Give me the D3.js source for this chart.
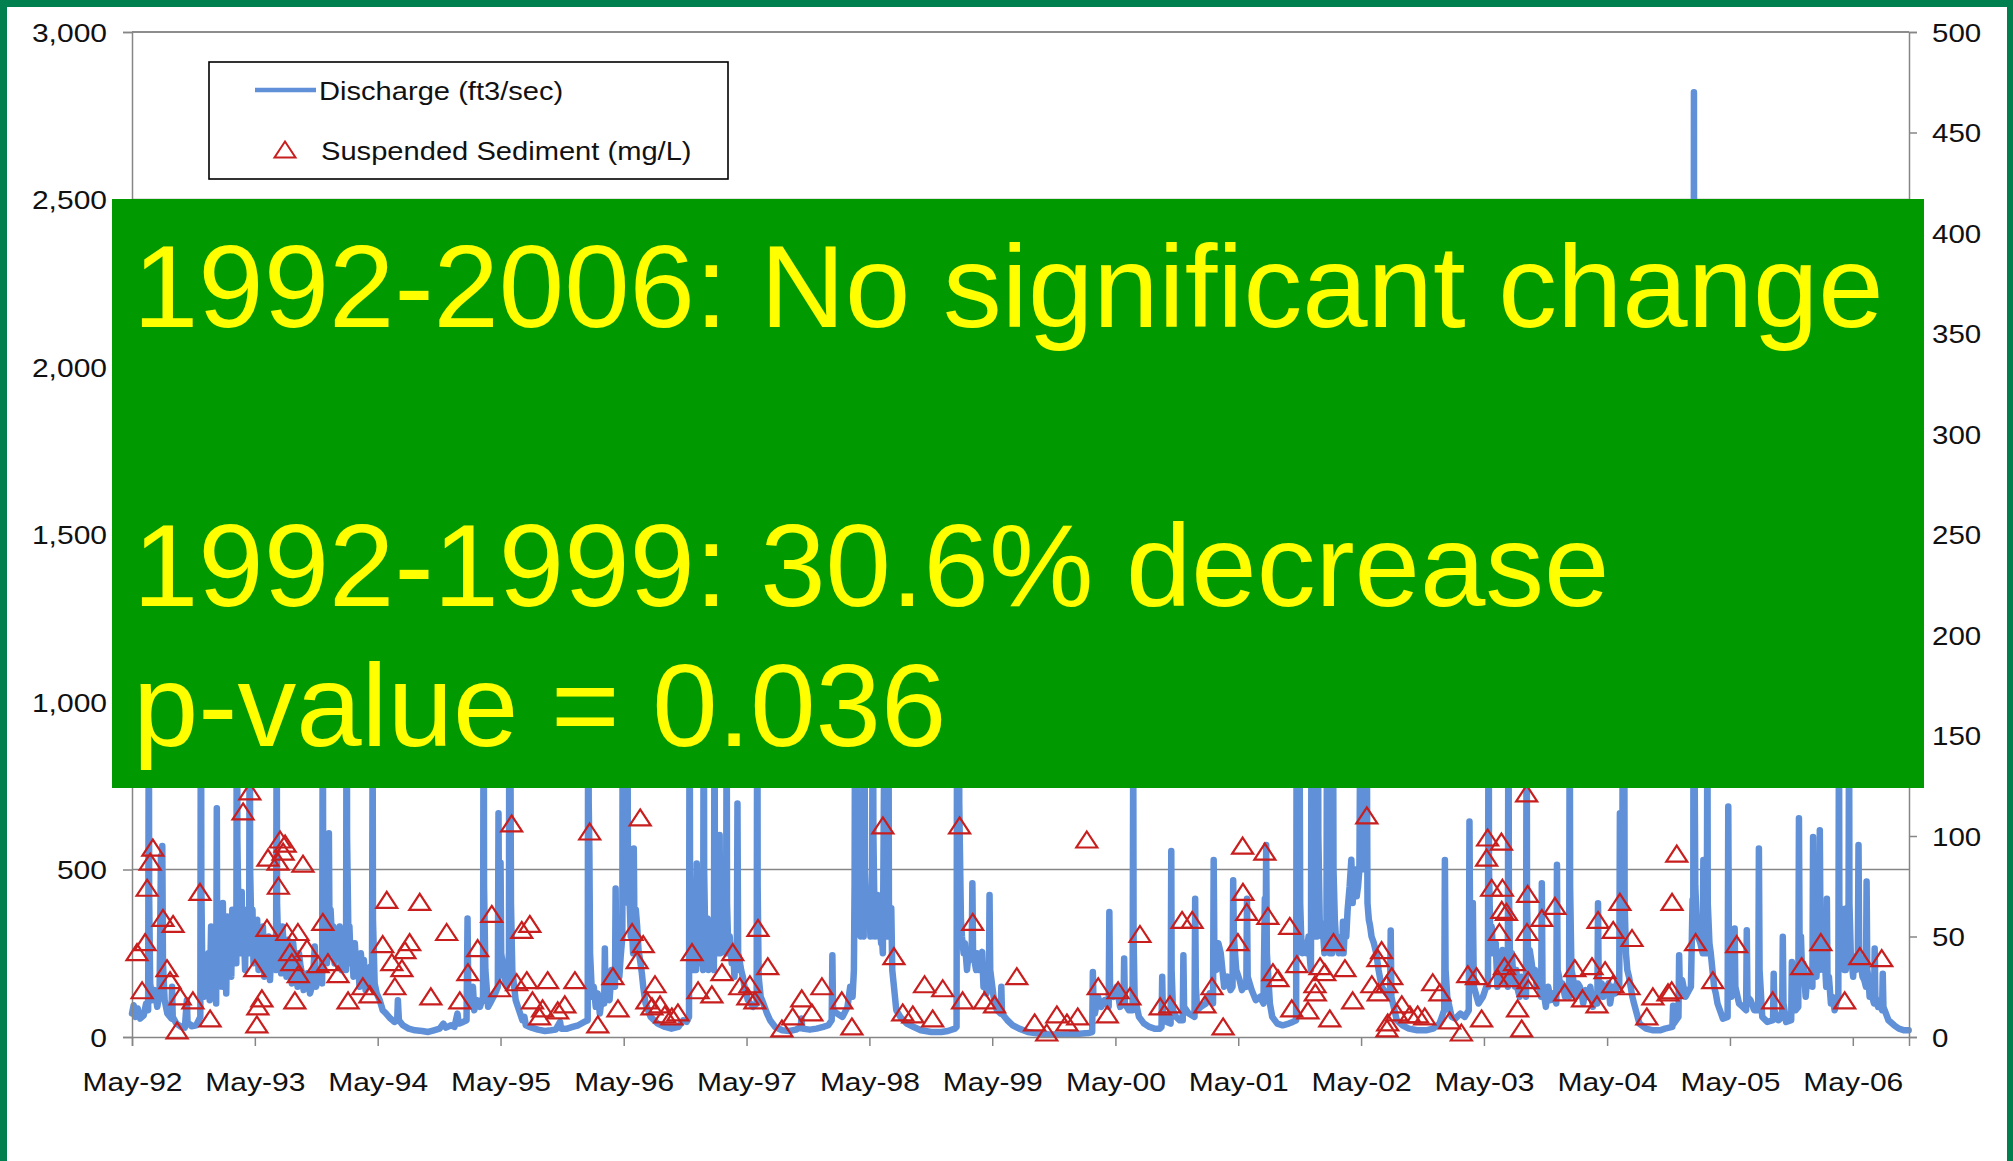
<!DOCTYPE html>
<html>
<head>
<meta charset="utf-8">
<script src="https://cdn.jsdelivr.net/npm/d3@7"></script>
<style>
  html, body { margin: 0; padding: 0; background: #ffffff; }
  svg { display: block; }
  text { font-family: "Liberation Sans", Arial, "Helvetica Neue", sans-serif; }
</style>
</head>
<body>
<svg id="chart" width="2013" height="1161"></svg>
<script>
// ---------------- data ----------------
// Daily discharge record (ft3/sec), key days of each runoff event
const discharge = [
["1992-05-01",70],["1992-05-06",95],["1992-05-12",60],["1992-05-18",85],["1992-05-25",55],["1992-06-05",65],["1992-06-12",100],["1992-06-18",80],["1992-06-20",1100],["1992-06-21",420],["1992-06-24",160],["1992-07-01",110],["1992-07-08",140],["1992-07-15",90],["1992-07-22",130],["1992-07-26",540],["1992-07-28",300],["1992-07-30",570],["1992-08-01",220],["1992-08-06",110],["1992-08-14",70],["1992-08-26",55],["1992-08-28",150],["1992-08-30",60],["1992-09-10",40],["1992-09-25",30],["1992-10-05",28],["1992-10-11",110],["1992-10-13",45],["1992-10-25",32],["1992-11-08",35],["1992-11-20",60],["1992-11-22",1300],["1992-11-23",450],["1992-11-26",190],["1992-12-02",120],["1992-12-10",170],["1992-12-14",250],["1992-12-18",110],["1992-12-22",330],["1992-12-28",140],
["1993-01-02",260],["1993-01-06",100],["1993-01-08",683],["1993-01-09",300],["1993-01-12",150],["1993-01-15",280],["1993-01-18",180],["1993-01-21",350],["1993-01-25",150],["1993-01-26",400],["1993-01-28",180],["1993-02-02",300],["1993-02-05",130],["1993-02-08",360],["1993-02-12",220],["1993-02-16",290],["1993-02-20",180],["1993-02-23",380],["1993-02-27",260],["1993-03-03",330],["1993-03-07",220],["1993-03-09",1500],["1993-03-10",600],["1993-03-14",300],["1993-03-17",380],["1993-03-20",250],["1993-03-23",433],["1993-03-25",250],["1993-03-29",340],["1993-04-02",200],["1993-04-05",380],["1993-04-08",300],["1993-04-11",320],["1993-04-14",250],["1993-04-16",1200],["1993-04-17",500],["1993-04-21",300],["1993-04-24",380],["1993-04-27",220],
["1993-05-05",300],["1993-05-08",350],["1993-05-12",200],["1993-05-16",260],["1993-05-20",280],["1993-05-25",330],["1993-05-29",180],["1993-06-02",240],["1993-06-06",260],["1993-06-11",300],["1993-06-15",170],["1993-06-19",250],["1993-06-24",230],["1993-06-28",290],["1993-07-03",200],["1993-07-05",1000],["1993-07-06",400],["1993-07-10",250],["1993-07-14",300],["1993-07-18",190],["1993-07-22",330],["1993-07-26",270],["1993-07-30",230],["1993-08-03",180],["1993-08-07",290],["1993-08-11",250],["1993-08-15",210],["1993-08-19",160],["1993-08-23",280],["1993-08-27",230],["1993-09-01",200],["1993-09-05",150],["1993-09-09",250],["1993-09-14",210],["1993-09-18",190],["1993-09-23",140],["1993-10-03",190],["1993-10-12",130],["1993-10-20",160],["1993-10-26",270],["1993-10-30",150],["1993-11-08",200],["1993-11-17",160],["1993-11-19",1100],["1993-11-20",450],["1993-11-23",250],["1993-11-28",320],["1993-12-01",220],["1993-12-05",250],["1993-12-07",608],["1993-12-09",280],["1993-12-12",380],["1993-12-16",300],["1993-12-20",330],["1993-12-24",220],["1993-12-28",300],
["1994-01-04",260],["1994-01-08",330],["1994-01-14",200],["1994-01-18",300],["1994-01-22",240],["1994-01-27",200],["1994-01-29",1400],["1994-01-30",600],["1994-02-03",300],["1994-02-06",330],["1994-02-10",220],["1994-02-14",260],["1994-02-18",180],["1994-02-22",280],["1994-02-27",200],["1994-03-03",240],["1994-03-08",150],["1994-03-12",250],["1994-03-17",190],["1994-03-21",230],["1994-03-26",140],["1994-03-30",200],["1994-04-05",160],["1994-04-09",210],["1994-04-14",150],["1994-04-16",900],["1994-04-17",350],["1994-04-22",160],["1994-04-28",130],
["1994-05-07",110],["1994-05-16",80],["1994-05-26",70],["1994-06-08",55],["1994-06-20",45],["1994-06-28",50],["1994-06-30",110],["1994-07-03",50],["1994-07-15",35],["1994-08-01",25],["1994-08-20",20],["1994-09-10",18],["1994-09-28",15],["1994-10-15",20],["1994-11-01",25],["1994-11-12",40],["1994-11-20",28],["1994-12-05",35],["1994-12-15",30],["1994-12-24",70],["1994-12-28",40],
["1995-01-10",45],["1995-01-20",50],["1995-01-23",354],["1995-01-25",150],["1995-01-30",90],["1995-02-08",150],["1995-02-12",80],["1995-02-20",110],["1995-03-01",90],["1995-03-10",120],["1995-03-12",1300],["1995-03-13",450],["1995-03-17",200],["1995-03-25",90],["1995-04-05",110],["1995-04-15",130],["1995-04-23",150],["1995-04-25",668],["1995-04-27",250],["1995-04-29",200],["1995-05-01",520],["1995-05-03",250],["1995-05-12",180],["1995-05-20",150],["1995-05-26",250],["1995-05-28",1800],["1995-05-30",1000],["1995-06-01",400],["1995-06-05",200],["1995-06-15",110],["1995-06-25",80],["1995-07-05",50],["1995-07-11",60],["1995-07-15",35],["1995-08-01",28],["1995-08-20",22],["1995-09-10",18],["1995-09-28",20],["1995-10-12",22],["1995-10-25",45],["1995-10-28",25],["1995-11-15",25],["1995-12-01",30],["1995-12-18",35],
["1996-01-05",45],["1996-01-15",50],["1996-01-17",1500],["1996-01-18",700],["1996-01-20",553],["1996-01-22",250],["1996-01-28",120],["1996-02-02",150],["1996-02-08",90],["1996-02-14",130],["1996-02-20",70],["1996-02-26",120],["1996-03-04",100],["1996-03-06",264],["1996-03-08",120],["1996-03-14",160],["1996-03-20",110],["1996-03-26",200],["1996-04-01",180],["1996-04-05",150],["1996-04-07",443],["1996-04-09",200],["1996-04-14",260],["1996-04-18",180],["1996-04-22",240],["1996-04-27",300],["1996-04-29",2000],["1996-05-01",1200],["1996-05-03",800],["1996-05-06",1600],["1996-05-09",600],["1996-05-12",1000],["1996-05-14",400],["1996-05-17",450],["1996-05-22",300],["1996-05-25",330],["1996-05-29",250],["1996-05-31",563],["1996-06-02",300],["1996-06-06",380],["1996-06-10",330],["1996-06-14",260],["1996-06-20",220],["1996-06-24",190],["1996-06-28",150],["1996-07-05",100],["1996-07-20",60],["1996-08-10",40],["1996-09-01",30],["1996-09-20",25],["1996-10-10",30],["1996-10-25",50],["1996-11-04",45],["1996-11-11",60],["1996-11-13",1200],["1996-11-14",500],["1996-11-17",250],["1996-11-21",300],["1996-11-25",200],["1996-11-29",260],["1996-12-02",200],["1996-12-04",518],["1996-12-06",250],["1996-12-10",330],["1996-12-14",220],["1996-12-18",300],["1996-12-23",200],["1996-12-25",1300],["1996-12-26",500],["1996-12-30",250],
["1997-01-02",300],["1997-01-05",354],["1997-01-08",200],["1997-01-12",320],["1997-01-16",240],["1997-01-20",300],["1997-01-24",200],["1997-01-26",1100],["1997-01-27",400],["1997-02-01",250],["1997-02-04",330],["1997-02-08",250],["1997-02-10",603],["1997-02-12",250],["1997-02-16",320],["1997-02-20",280],["1997-02-24",300],["1997-03-01",250],["1997-03-03",1000],["1997-03-04",400],["1997-03-08",250],["1997-03-12",300],["1997-03-18",220],["1997-03-22",260],["1997-03-26",180],["1997-03-30",240],["1997-04-02",200],["1997-04-04",697],["1997-04-06",250],["1997-04-10",230],["1997-04-15",200],["1997-04-20",180],["1997-04-25",150],["1997-05-05",110],["1997-05-20",90],["1997-05-31",100],["1997-06-02",1300],["1997-06-03",450],["1997-06-06",180],["1997-06-12",120],["1997-06-20",100],["1997-07-01",70],["1997-07-10",50],["1997-07-25",30],["1997-08-15",20],["1997-09-05",18],["1997-09-25",22],["1997-10-09",30],["1997-10-11",55],["1997-10-14",25],["1997-11-05",22],["1997-11-25",25],["1997-12-15",30],["1997-12-30",35],
["1998-01-09",50],["1998-01-11",244],["1998-01-13",80],["1998-01-25",70],["1998-02-10",60],["1998-02-25",90],["1998-03-05",150],["1998-03-12",120],["1998-03-16",200],["1998-03-18",454],["1998-03-20",1200],["1998-03-22",500],["1998-03-25",1500],["1998-03-27",600],["1998-03-31",400],["1998-04-01",450],["1998-04-05",300],["1998-04-08",380],["1998-04-10",350],["1998-04-14",300],["1998-04-16",1100],["1998-04-18",500],["1998-04-21",420],["1998-04-25",350],["1998-04-28",380],["1998-05-01",420],["1998-05-04",300],["1998-05-09",350],["1998-05-11",1300],["1998-05-13",600],["1998-05-16",380],["1998-05-18",300],["1998-05-21",350],["1998-05-25",424],["1998-05-28",300],["1998-06-01",330],["1998-06-05",280],["1998-06-07",300],["1998-06-10",250],["1998-06-15",1000],["1998-06-17",500],["1998-06-20",400],["1998-06-22",350],["1998-06-24",300],["1998-06-27",900],["1998-06-28",400],["1998-07-02",300],["1998-07-05",384],["1998-07-08",200],["1998-07-20",80],["1998-08-01",60],["1998-08-20",40],["1998-09-10",30],["1998-10-01",20],["1998-11-01",15],["1998-12-01",15],["1998-12-20",18],
["1999-01-10",25],["1999-01-15",30],["1999-01-17",1400],["1999-01-19",800],["1999-01-22",1600],["1999-01-23",700],["1999-01-28",350],["1999-01-31",300],["1999-02-05",250],["1999-02-09",280],["1999-02-15",200],["1999-02-19",240],["1999-02-24",230],["1999-03-01",250],["1999-03-03",459],["1999-03-05",250],["1999-03-09",230],["1999-03-14",200],["1999-03-17",250],["1999-03-22",200],["1999-03-26",220],["1999-04-01",254],["1999-04-05",150],["1999-04-08",180],["1999-04-14",130],["1999-04-17",200],["1999-04-21",150],["1999-04-23",424],["1999-04-25",200],["1999-05-05",120],["1999-05-15",80],["1999-05-26",70],["1999-05-28",150],["1999-05-30",70],["1999-06-15",50],["1999-07-01",35],["1999-07-20",25],["1999-08-15",15],["1999-09-15",10],["1999-10-15",8],["1999-11-15",7],["1999-12-15",8],
["2000-01-15",10],["2000-02-10",12],["2000-02-22",15],["2000-02-24",194],["2000-02-26",100],["2000-03-01",70],["2000-03-10",120],["2000-03-20",90],["2000-03-30",110],["2000-04-11",90],["2000-04-13",373],["2000-04-15",150],["2000-04-25",120],["2000-05-05",150],["2000-05-15",90],["2000-05-25",100],["2000-05-27",234],["2000-05-29",100],["2000-06-10",80],["2000-06-21",80],["2000-06-23",900],["2000-06-24",300],["2000-06-27",120],["2000-07-10",60],["2000-07-25",40],["2000-08-10",30],["2000-08-25",25],["2000-09-10",25],["2000-09-15",30],["2000-09-17",180],["2000-09-19",70],["2000-10-01",45],["2000-10-12",40],["2000-10-14",555],["2000-10-15",200],["2000-10-19",80],["2000-10-28",60],["2000-11-08",50],["2000-11-17",50],["2000-11-19",244],["2000-11-21",90],["2000-12-05",70],["2000-12-22",60],["2000-12-24",413],["2000-12-26",150],["2000-12-30",80],
["2001-01-10",90],["2001-01-25",100],["2001-02-05",130],["2001-02-15",100],["2001-02-17",528],["2001-02-19",250],["2001-02-25",200],["2001-03-03",280],["2001-03-10",250],["2001-03-20",150],["2001-03-30",180],["2001-04-08",140],["2001-04-14",150],["2001-04-16",468],["2001-04-18",300],["2001-04-25",200],["2001-05-05",170],["2001-05-12",140],["2001-05-20",160],["2001-05-25",150],["2001-05-27",413],["2001-05-29",180],["2001-06-10",140],["2001-06-22",110],["2001-07-05",120],["2001-07-15",100],["2001-07-19",413],["2001-07-21",200],["2001-07-23",573],["2001-07-25",250],["2001-08-03",100],["2001-08-10",60],["2001-08-25",40],["2001-09-10",35],["2001-09-28",40],["2001-10-10",45],["2001-10-20",50],["2001-10-22",1300],["2001-10-24",600],["2001-10-30",1000],["2001-11-01",400],["2001-11-04",300],["2001-11-08",250],["2001-11-14",280],["2001-11-20",250],["2001-11-26",300],["2001-12-01",220],["2001-12-03",200],["2001-12-05",1200],["2001-12-06",500],["2001-12-10",350],["2001-12-15",300],["2001-12-18",330],["2001-12-21",300],["2001-12-23",1500],["2001-12-25",600],["2001-12-29",350],
["2002-01-01",330],["2002-01-05",300],["2002-01-09",300],["2002-01-12",250],["2002-01-15",330],["2002-01-18",300],["2002-01-20",1100],["2002-01-22",400],["2002-01-25",300],["2002-01-28",250],["2002-02-01",280],["2002-02-04",250],["2002-02-06",1300],["2002-02-08",500],["2002-02-12",350],["2002-02-15",300],["2002-02-19",300],["2002-02-24",250],["2002-02-28",280],["2002-03-06",250],["2002-03-08",344],["2002-03-10",250],["2002-03-14",330],["2002-03-18",300],["2002-03-22",380],["2002-03-28",450],["2002-04-02",529],["2002-04-06",400],["2002-04-10",480],["2002-04-15",500],["2002-04-18",420],["2002-04-22",450],["2002-04-26",500],["2002-04-30",1200],["2002-05-02",700],["2002-05-05",1500],["2002-05-08",700],["2002-05-12",500],["2002-05-15",600],["2002-05-18",900],["2002-05-20",400],["2002-05-24",350],["2002-05-28",330],["2002-06-01",300],["2002-06-08",280],["2002-06-15",250],["2002-06-22",200],["2002-07-01",150],["2002-07-15",130],["2002-07-26",120],["2002-07-28",318],["2002-07-30",120],["2002-08-15",50],["2002-09-01",35],["2002-09-20",25],["2002-10-15",20],["2002-11-10",20],["2002-12-01",25],["2002-12-20",40],
["2003-01-03",80],["2003-01-05",528],["2003-01-07",200],["2003-01-12",120],["2003-01-25",60],["2003-02-05",55],["2003-02-20",70],["2003-03-05",60],["2003-03-17",80],["2003-03-19",643],["2003-03-21",300],["2003-03-26",200],["2003-03-29",400],["2003-04-01",150],["2003-04-15",100],["2003-04-28",120],["2003-05-08",150],["2003-05-13",150],["2003-05-15",1300],["2003-05-16",500],["2003-05-20",300],["2003-05-24",330],["2003-05-28",250],["2003-06-01",250],["2003-06-05",280],["2003-06-10",150],["2003-06-14",220],["2003-06-20",200],["2003-06-25",260],["2003-07-01",160],["2003-07-05",220],["2003-07-11",150],["2003-07-13",1200],["2003-07-14",450],["2003-07-18",200],["2003-07-23",250],["2003-07-27",180],["2003-08-01",150],["2003-08-05",200],["2003-08-10",140],["2003-08-15",120],["2003-08-20",180],["2003-08-25",150],["2003-08-30",140],["2003-09-03",120],["2003-09-05",1100],["2003-09-06",400],["2003-09-10",200],["2003-09-14",260],["2003-09-20",220],["2003-09-25",180],["2003-09-30",200],["2003-10-05",150],["2003-10-10",170],["2003-10-18",120],["2003-10-20",459],["2003-10-22",150],["2003-10-26",130],["2003-11-01",90],["2003-11-08",150],["2003-11-15",110],["2003-11-22",130],["2003-12-02",100],["2003-12-04",514],["2003-12-06",200],["2003-12-10",180],["2003-12-15",150],["2003-12-20",160],["2003-12-28",120],
["2004-01-04",150],["2004-01-09",120],["2004-01-11",1100],["2004-01-12",450],["2004-01-16",200],["2004-01-20",180],["2004-01-25",150],["2004-01-30",120],["2004-02-04",160],["2004-02-10",150],["2004-02-15",130],["2004-02-20",100],["2004-02-27",140],["2004-03-05",120],["2004-03-12",150],["2004-03-20",90],["2004-03-26",120],["2004-04-02",100],["2004-04-04",399],["2004-04-06",150],["2004-04-10",140],["2004-04-15",160],["2004-04-20",120],["2004-04-27",140],["2004-05-05",160],["2004-05-10",100],["2004-05-18",150],["2004-05-25",130],["2004-06-01",170],["2004-06-06",150],["2004-06-08",668],["2004-06-10",300],["2004-06-13",350],["2004-06-15",400],["2004-06-17",1200],["2004-06-18",500],["2004-06-21",1000],["2004-06-22",400],["2004-06-26",250],["2004-06-30",200],["2004-07-05",180],["2004-07-10",150],["2004-07-15",120],["2004-07-20",100],["2004-08-05",40],["2004-08-25",25],["2004-09-15",20],["2004-10-05",20],["2004-10-20",25],["2004-11-11",30],["2004-11-13",93],["2004-11-15",40],["2004-11-29",60],["2004-12-01",244],["2004-12-03",150],["2004-12-10",170],["2004-12-20",120],
["2005-01-05",150],["2005-01-10",410],["2005-01-12",300],["2005-01-14",2820],["2005-01-15",1000],["2005-01-18",450],["2005-01-22",350],["2005-01-26",300],["2005-02-02",280],["2005-02-09",250],["2005-02-11",528],["2005-02-13",250],["2005-02-16",300],["2005-02-21",250],["2005-02-23",1000],["2005-02-24",400],["2005-02-27",330],["2005-03-01",280],["2005-03-05",250],["2005-03-10",200],["2005-03-15",150],["2005-03-20",130],["2005-03-25",100],["2005-04-10",55],["2005-04-24",60],["2005-04-26",688],["2005-04-28",200],["2005-05-05",120],["2005-05-13",150],["2005-05-15",324],["2005-05-17",150],["2005-05-28",100],["2005-06-08",90],["2005-06-18",80],["2005-06-20",319],["2005-06-22",120],["2005-07-01",110],["2005-07-12",80],["2005-07-24",80],["2005-07-26",563],["2005-07-28",200],["2005-08-05",60],["2005-08-20",45],["2005-09-06",50],["2005-09-08",189],["2005-09-10",80],["2005-09-22",50],["2005-10-03",60],["2005-10-05",299],["2005-10-07",100],["2005-10-15",45],["2005-10-30",50],["2005-11-01",224],["2005-11-03",100],["2005-11-12",80],["2005-11-20",90],["2005-11-22",653],["2005-11-24",250],["2005-11-28",300],["2005-12-01",200],["2005-12-05",220],["2005-12-12",120],["2005-12-17",180],["2005-12-22",160],["2005-12-27",200],
["2006-01-01",150],["2006-01-03",597],["2006-01-05",250],["2006-01-09",230],["2006-01-13",180],["2006-01-17",260],["2006-01-21",200],["2006-01-23",617],["2006-01-25",300],["2006-01-29",250],["2006-02-03",200],["2006-02-07",230],["2006-02-11",150],["2006-02-13",413],["2006-02-15",150],["2006-02-19",180],["2006-02-25",100],["2006-03-02",120],["2006-03-08",80],["2006-03-13",100],["2006-03-19",120],["2006-03-21",1000],["2006-03-22",400],["2006-03-25",300],["2006-03-28",250],["2006-04-02",250],["2006-04-06",200],["2006-04-08",383],["2006-04-10",200],["2006-04-14",260],["2006-04-18",250],["2006-04-20",1000],["2006-04-21",400],["2006-04-25",250],["2006-04-28",220],["2006-05-02",180],["2006-05-06",240],["2006-05-10",200],["2006-05-13",220],["2006-05-16",250],["2006-05-18",573],["2006-05-20",250],["2006-05-24",220],["2006-05-30",180],["2006-06-04",170],["2006-06-09",150],["2006-06-11",464],["2006-06-13",200],["2006-06-16",180],["2006-06-20",120],["2006-06-25",130],["2006-07-03",100],["2006-07-05",264],["2006-07-07",120],["2006-07-10",110],["2006-07-15",90],["2006-07-20",100],["2006-07-27",80],["2006-07-29",189],["2006-07-31",90],["2006-08-15",50],["2006-09-01",35],["2006-09-15",25],["2006-10-01",20],["2006-10-14",20]
];

// Suspended sediment samples (mg/L)
const sediment = [
["1992-05-16",42],["1992-05-31",23],["1992-06-09",47],["1992-06-15",74],["1992-06-24",87],["1992-07-02",94],["1992-08-01",59],["1992-08-13",34],["1992-08-22",28],["1992-08-31",56],["1992-09-12",3],["1992-09-21",20],["1992-10-29",18],["1992-11-19",72],["1992-12-19",9],["1993-03-27",112],["1993-04-16",122],
["1993-05-01",34],["1993-05-07",6],["1993-05-10",15],["1993-05-22",19],["1993-06-06",54],["1993-06-09",89],["1993-07-09",87],["1993-07-10",75],["1993-07-15",98],["1993-07-24",92],["1993-07-30",96],["1993-08-04",52],["1993-08-13",42],["1993-08-19",37],["1993-08-28",18],["1993-09-06",52],["1993-09-07",31],["1993-09-21",86],["1993-10-03",44],["1993-11-05",36],["1993-11-19",57],["1993-12-04",37],["1994-01-03",31],["1994-02-02",18],["1994-03-18",25],["1994-04-08",21],
["1994-05-16",46],["1994-05-28",68],["1994-06-12",37],["1994-06-21",25],["1994-07-12",34],["1994-07-21",43],["1994-08-04",47],["1994-09-03",67],["1994-10-06",20],["1994-11-22",52],["1994-12-31",18],["1995-01-24",32],["1995-02-22",44],["1995-04-05",61],["1995-04-29",24],
["1995-06-03",106],["1995-06-18",27],["1995-07-03",53],["1995-07-18",28],["1995-07-27",56],["1995-08-04",18],["1995-08-25",10],["1995-09-03",14],["1995-09-18",28],["1995-10-18",13],["1995-11-08",16],["1995-12-08",28],["1996-01-21",102],["1996-02-14",6],["1996-03-30",30],["1996-04-14",14],
["1996-05-26",52],["1996-06-10",38],["1996-06-19",109],["1996-06-28",46],["1996-07-09",18],["1996-07-24",15],["1996-08-02",26],["1996-08-17",16],["1996-08-31",11],["1996-09-21",10],["1996-10-09",12],["1996-11-20",42],["1996-12-08",23],["1997-01-18",21],["1997-02-17",32],["1997-03-21",42],["1997-04-11",25],
["1997-05-05",20],["1997-05-11",26],["1997-05-26",18],["1997-06-04",54],["1997-07-03",35],["1997-08-14",4],["1997-09-15",10],["1997-10-12",19],["1997-11-11",12],["1997-12-11",25],["1998-02-08",18],["1998-03-10",5],
["1998-06-10",105],["1998-07-13",40],["1998-08-08",12],["1998-09-07",11],["1998-10-12",26],["1998-11-05",9],["1998-12-05",24],["1999-01-24",105],["1999-02-02",18],["1999-03-04",57],["1999-04-08",18],
["1999-05-08",16],["1999-07-13",30],["1999-09-04",7],["1999-10-10",2],["1999-11-09",11],["1999-12-09",7],["2000-01-10",10],["2000-02-06",98],["2000-03-11",25],["2000-04-07",11],
["2000-05-09",23],["2000-06-13",20],["2000-07-13",51],["2000-09-11",15],["2000-10-10",16],["2000-11-15",58],["2000-12-15",58],["2001-01-22",16],["2001-02-12",25],["2001-03-17",5],["2001-04-30",47],
["2001-05-14",95],["2001-05-15",72],["2001-05-26",62],["2001-07-19",92],["2001-07-28",60],["2001-08-12",32],["2001-08-27",29],["2001-10-01",55],["2001-10-07",14],["2001-10-22",36],["2001-11-24",13],["2001-12-15",26],["2001-12-16",22],["2001-12-30",35],["2002-01-13",32],["2002-01-28",9],["2002-02-08",47],["2002-03-14",34],["2002-04-06",18],
["2002-05-18",110],["2002-06-02",26],["2002-06-20",39],["2002-06-21",22],["2002-07-01",43],["2002-07-16",26],["2002-07-17",4],["2002-07-19",7],["2002-07-31",30],["2002-08-15",12],["2002-08-30",16],["2002-09-23",11],["2002-10-16",11],["2002-11-06",10],["2002-11-30",27],["2002-12-21",22],["2003-01-19",8],["2003-02-23",2],["2003-03-14",31],["2003-04-09",30],["2003-04-24",9],
["2003-05-09",89],["2003-05-12",99],["2003-05-24",74],["2003-06-11",29],["2003-06-16",52],["2003-06-22",97],["2003-06-23",63],["2003-06-25",74],["2003-07-01",35],["2003-07-07",62],["2003-07-16",29],["2003-07-31",37],["2003-08-09",14],["2003-08-21",4],["2003-09-05",121],["2003-09-06",52],["2003-09-08",71],["2003-09-09",28],["2003-09-10",24],["2003-10-20",59],["2003-11-28",65],["2003-12-27",22],["2004-01-26",34],["2004-02-18",19],["2004-03-17",35],["2004-04-01",16],["2004-04-04",58],["2004-04-25",33],
["2004-05-18",26],["2004-05-19",53],["2004-06-08",67],["2004-07-05",25],["2004-07-14",49],["2004-08-27",10],["2004-09-14",20],["2004-10-29",22],["2004-11-09",23],["2004-11-10",67],["2004-11-24",91],["2005-01-19",47],["2005-03-11",28],
["2005-05-21",46],["2005-09-05",18],["2005-11-30",35],["2006-01-26",47],["2006-04-07",18],["2006-05-22",40],["2006-07-26",39]
];

// Axis tick values
const dischargeTicks = [0, 500, 1000, 1500, 2000, 2500, 3000];
const sedimentTicks  = [0, 50, 100, 150, 200, 250, 300, 350, 400, 450, 500];
const dateTicks = ["1992-05-01","1993-05-01","1994-05-01","1995-05-01","1996-05-01","1997-05-01","1998-05-01",
                   "1999-05-01","2000-05-01","2001-05-01","2002-05-01","2003-05-01","2004-05-01","2005-05-01","2006-05-01"];
const dateRange = ["1992-05-01", "2006-10-15"];

// Legend and annotation text
const legendLabels = ["Discharge (ft3/sec)", "Suspended Sediment (mg/L)"];
const summaryLines = ["1992-2006: No significant change", "", "1992-1999: 30.6% decrease", "p-value = 0.036"];

// ---------------- drawing ----------------
const parse = d3.timeParse("%Y-%m-%d");
const W = 2013, H = 1161;
const plot = { left: 132, right: 1909, top: 32, bottom: 1037 };
const blue = "#5f90d8", red = "#c81e1e", axisGrey = "#868686";
const sx = 1.2; // horizontal stretch of chart lettering

const svg = d3.select("#chart");

svg.append("rect").attr("width", W).attr("height", H).attr("fill", "#ffffff");

const x = d3.scaleTime().domain(dateRange.map(parse)).range([plot.left, plot.right]);
const yQ = d3.scaleLinear().domain([0, 3000]).range([plot.bottom, plot.top]);
const yS = d3.scaleLinear().domain([0, 500]).range([plot.bottom, plot.top]);

// horizontal gridlines
svg.append("g").selectAll("line")
  .data(dischargeTicks.filter(d => d > 0))
  .join("line")
  .attr("x1", plot.left).attr("x2", plot.right)
  .attr("y1", d => yQ(d)).attr("y2", d => yQ(d))
  .attr("stroke", axisGrey).attr("stroke-width", 1.4);

// discharge line
const qData = discharge
  .map(([d, v]) => ({ date: parse(d), value: v }))
  .sort((a, b) => a.date - b.date);
svg.append("path")
  .datum(qData)
  .attr("fill", "none")
  .attr("stroke", blue)
  .attr("stroke-width", 6.5)
  .attr("stroke-linejoin", "round")
  .attr("stroke-linecap", "round")
  .attr("d", d3.line().x(d => x(d.date)).y(d => yQ(d.value)));

// axes
function styleAxis(g) {
  g.select(".domain").attr("stroke", axisGrey).attr("stroke-width", 1.5);
  g.selectAll(".tick line").attr("stroke", axisGrey).attr("stroke-width", 1.5);
  g.selectAll("text").attr("fill", "#111").style("font-size", "25px");
}

const leftAxis = svg.append("g")
  .attr("transform", `translate(${plot.left},0)`)
  .call(d3.axisLeft(yQ).tickValues(dischargeTicks).tickSize(9).tickFormat(d3.format(",")));
styleAxis(leftAxis);
leftAxis.selectAll("text").attr("x", 0).attr("dy", "0.36em")
  .attr("transform", `translate(-25,0) scale(${sx},1)`);

const rightAxis = svg.append("g")
  .attr("transform", `translate(${plot.right},0)`)
  .call(d3.axisRight(yS).tickValues(sedimentTicks).tickSize(8).tickFormat(d3.format("d")));
styleAxis(rightAxis);
rightAxis.selectAll("text").attr("x", 0).attr("dy", "0.36em")
  .attr("transform", `translate(23,0) scale(1.18,1)`);

const bottomAxis = svg.append("g")
  .attr("transform", `translate(0,${plot.bottom})`)
  .call(d3.axisBottom(x).tickValues(dateTicks.map(parse)).tickSize(9).tickFormat(d3.timeFormat("%b-%y")));
styleAxis(bottomAxis);
bottomAxis.selectAll("text").attr("y", 0).attr("dy", 0)
  .attr("transform", `translate(0,54) scale(${sx},1)`);

// plot-area top edge
svg.append("line")
  .attr("x1", plot.left).attr("x2", plot.right)
  .attr("y1", plot.top).attr("y2", plot.top)
  .attr("stroke", axisGrey).attr("stroke-width", 1.5);

// sediment markers
const tri = "M0,-8.5L10.5,7.5L-10.5,7.5Z";
svg.append("g").selectAll("path")
  .data(sediment.map(([d, v]) => ({ date: parse(d), value: v })))
  .join("path")
  .attr("d", tri)
  .attr("transform", d => `translate(${x(d.date)},${yS(d.value)})`)
  .attr("fill", "none")
  .attr("stroke", red)
  .attr("stroke-width", 2.2);

// legend
const lg = svg.append("g");
lg.append("rect").attr("x", 209).attr("y", 62).attr("width", 519).attr("height", 117)
  .attr("fill", "#fff").attr("stroke", "#000").attr("stroke-width", 1.6);
lg.append("line").attr("x1", 255).attr("x2", 316).attr("y1", 90).attr("y2", 90)
  .attr("stroke", blue).attr("stroke-width", 4.5);
lg.append("path").attr("d", tri).attr("transform", "translate(285,150)")
  .attr("fill", "none").attr("stroke", red).attr("stroke-width", 2);
lg.selectAll("text").data(legendLabels).join("text")
  .attr("transform", (d, i) => `translate(${i ? 321 : 319},${i ? 160 : 100}) scale(1.12,1)`)
  .attr("fill", "#111").style("font-size", "26px")
  .text(d => d);

// summary box
const box = svg.append("g");
box.append("rect").attr("x", 112).attr("y", 199).attr("width", 1812).attr("height", 589)
  .attr("fill", "#009900");
box.selectAll("text").data(summaryLines).join("text")
  .attr("x", 133)
  .attr("y", (d, i) => 327 + i * 139.5)
  .attr("fill", "#ffff00")
  .style("font-size", "117.5px")
  .text(d => d);

// slide frame
const frame = "#007f4f";
svg.append("rect").attr("x", 0).attr("y", 0).attr("width", 7).attr("height", H).attr("fill", frame);
svg.append("rect").attr("x", 0).attr("y", 0).attr("width", W).attr("height", 7).attr("fill", frame);
svg.append("rect").attr("x", W - 6).attr("y", 0).attr("width", 6).attr("height", H).attr("fill", frame);
</script>
</body>
</html>
